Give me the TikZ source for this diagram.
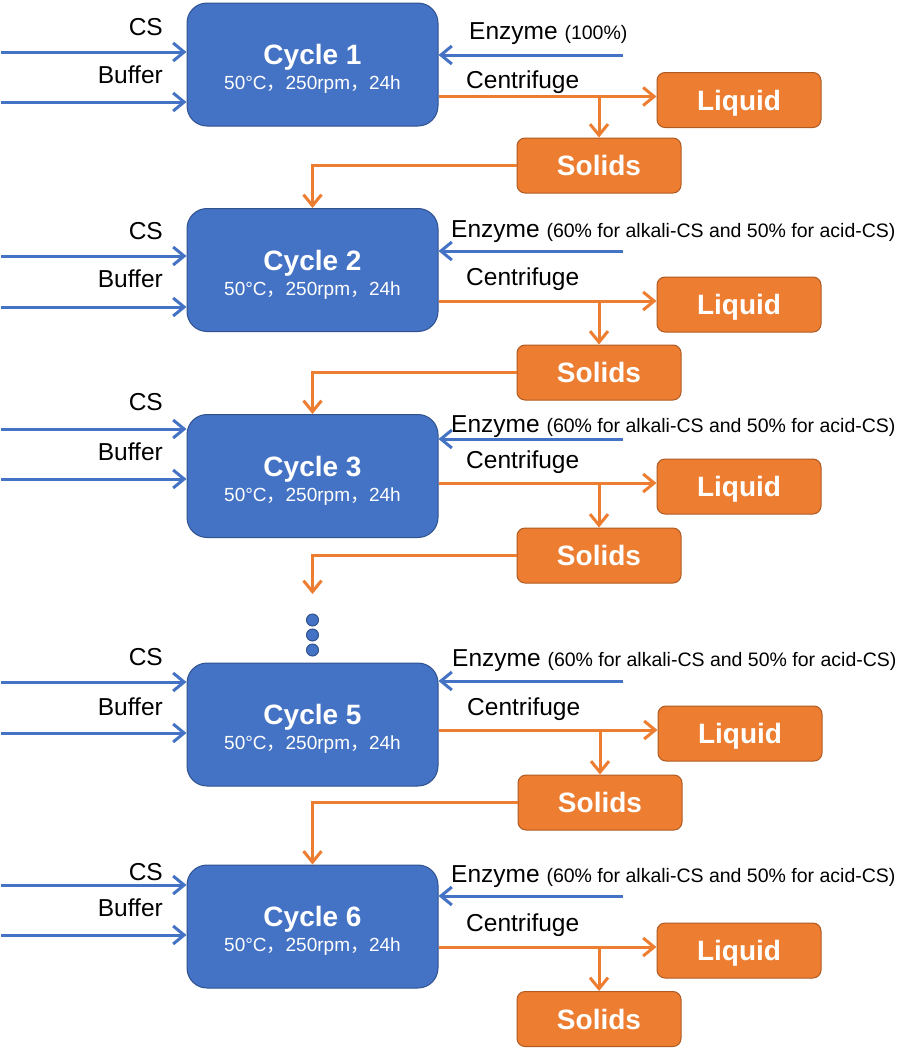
\documentclass[tikz,border=0pt]{standalone}
\usepackage{fontspec}
\setmainfont{Liberation Sans}
\newfontfamily\cjk{Noto Sans CJK SC}
\usetikzlibrary{arrows.meta}
\definecolor{cycblue}{HTML}{4472C4}
\definecolor{cycedge}{HTML}{2F528F}
\definecolor{outorange}{HTML}{ED7D31}
\definecolor{outedge}{HTML}{AE5A21}
\newcommand{\runcond}{50°C{\cjk ，}250rpm{\cjk ，}24h}
\newcommand{\dosenote}[1]{{\fontsize{19.5}{23}\selectfont(#1)}}
\tikzset{
  cyclebox/.style={rectangle,rounded corners=20pt,draw=cycedge,fill=cycblue,line width=1pt,
    minimum width=251pt,minimum height=123pt,inner sep=0pt},
  cycletitle/.style={anchor=base,inner sep=0pt,text=white,font=\fontsize{28}{32}\selectfont\bfseries},
  cyclecond/.style={anchor=base,inner sep=0pt,text=white,font=\fontsize{19}{23}\selectfont},
  outbox/.style={rectangle,rounded corners=8pt,draw=outedge,fill=outorange,line width=1pt,
    minimum width=164pt,minimum height=55pt,inner sep=0pt,text height=20pt,text depth=0pt,
    text=white,font=\fontsize{28}{32}\selectfont\bfseries},
  inlabel/.style={anchor=base east,inner sep=0pt,font=\fontsize{24.5}{29}\selectfont},
  sidelabel/.style={anchor=base west,inner sep=0pt,font=\fontsize{24.5}{29}\selectfont},
  feed/.style={draw=cycblue,line width=3pt,-{Straight Barb[length=11pt,width=18pt]}},
  product/.style={draw=outorange,line width=3pt,-{Straight Barb[length=11pt,width=18pt]}},
  dot/.style={circle,draw=cycedge,fill=cycblue,line width=1pt,minimum size=12pt,inner sep=0pt}
}
\begin{document}
\begin{tikzpicture}[x=1pt,y=-1pt]
  \useasboundingbox (0,0) rectangle (898,1050);

  \path (312.5,64.5) node[cyclebox] (c1) {};
  \path (c1.center) node[cycletitle] (t1) {Cycle 1};
  \path ([yshift=-25pt]c1.center) node[cyclecond] (k1) {\runcond};
  \path (739,100) node[outbox] (l1) {Liquid};
  \path (599,165.5) node[outbox] (s1) {Solids};
  \path (163,35) node[inlabel] (csl1) {CS};
  \path (163,83) node[inlabel] (bfl1) {Buffer};
  \path (469,39) node[sidelabel] (enl1) {Enzyme \dosenote{100\%}};
  \path (466,88) node[sidelabel] (cfl1) {Centrifuge};
  \coordinate (csa1) at (1,52);
  \coordinate (bfa1) at (1,102);
  \coordinate (ena1) at (623,55);
  \coordinate (cfa1) at ([yshift=3.5pt]l1.west);

  \path (312.5,270) node[cyclebox] (c2) {};
  \path (c2.center) node[cycletitle] (t2) {Cycle 2};
  \path ([yshift=-25pt]c2.center) node[cyclecond] (k2) {\runcond};
  \path (739,304.5) node[outbox] (l2) {Liquid};
  \path (599,372.5) node[outbox] (s2) {Solids};
  \path (163,239.5) node[inlabel] (csl2) {CS};
  \path (163,287.5) node[inlabel] (bfl2) {Buffer};
  \path (451,237) node[sidelabel] (enl2) {Enzyme \dosenote{60\% for alkali-CS and 50\% for acid-CS}};
  \path (466,285.5) node[sidelabel] (cfl2) {Centrifuge};
  \coordinate (csa2) at (1,256);
  \coordinate (bfa2) at (1,307);
  \coordinate (ena2) at (623,251);
  \coordinate (cfa2) at ([yshift=3.5pt]l2.west);

  \path (312.5,476) node[cyclebox] (c3) {};
  \path (c3.center) node[cycletitle] (t3) {Cycle 3};
  \path ([yshift=-25pt]c3.center) node[cyclecond] (k3) {\runcond};
  \path (739,486.5) node[outbox] (l3) {Liquid};
  \path (599,555.5) node[outbox] (s3) {Solids};
  \path (163,410.5) node[inlabel] (csl3) {CS};
  \path (163,460.5) node[inlabel] (bfl3) {Buffer};
  \path (451,432) node[sidelabel] (enl3) {Enzyme \dosenote{60\% for alkali-CS and 50\% for acid-CS}};
  \path (466,468.5) node[sidelabel] (cfl3) {Centrifuge};
  \coordinate (csa3) at (1,429);
  \coordinate (bfa3) at (1,479);
  \coordinate (ena3) at (623,439);
  \coordinate (cfa3) at ([yshift=3.5pt]l3.west);

  \path (312.5,620) node[dot] (d1) {};
  \path (312.5,635) node[dot] (d2) {};
  \path (312.5,650) node[dot] (d3) {};

  \path (312.5,724.5) node[cyclebox] (c5) {};
  \path (c5.center) node[cycletitle] (t5) {Cycle 5};
  \path ([yshift=-25pt]c5.center) node[cyclecond] (k5) {\runcond};
  \path (740,733.5) node[outbox] (l5) {Liquid};
  \path (600,802.5) node[outbox] (s5) {Solids};
  \path (163,665.5) node[inlabel] (csl5) {CS};
  \path (163,715.5) node[inlabel] (bfl5) {Buffer};
  \path (452,666) node[sidelabel] (enl5) {Enzyme \dosenote{60\% for alkali-CS and 50\% for acid-CS}};
  \path (467,715.5) node[sidelabel] (cfl5) {Centrifuge};
  \coordinate (csa5) at (1,682);
  \coordinate (bfa5) at (1,733);
  \coordinate (ena5) at (623,681);
  \coordinate (cfa5) at ([yshift=3.5pt]l5.west);

  \path (312.5,926.5) node[cyclebox] (c6) {};
  \path (c6.center) node[cycletitle] (t6) {Cycle 6};
  \path ([yshift=-25pt]c6.center) node[cyclecond] (k6) {\runcond};
  \path (739,950.5) node[outbox] (l6) {Liquid};
  \path (599,1019) node[outbox] (s6) {Solids};
  \path (163,880.5) node[inlabel] (csl6) {CS};
  \path (163,916.5) node[inlabel] (bfl6) {Buffer};
  \path (451,882) node[sidelabel] (enl6) {Enzyme \dosenote{60\% for alkali-CS and 50\% for acid-CS}};
  \path (466,931.5) node[sidelabel] (cfl6) {Centrifuge};
  \coordinate (csa6) at (1,885);
  \coordinate (bfa6) at (1,935);
  \coordinate (ena6) at (623,896);
  \coordinate (cfa6) at ([yshift=3.5pt]l6.west);

  \foreach \n in {1,2,3,5,6} {
    \draw[feed] (csa\n) -- (csa\n -| c\n.west);
    \draw[feed] (bfa\n) -- (bfa\n -| c\n.west);
    \draw[feed] (ena\n) -- (ena\n -| c\n.east);
    \draw[product] (cfa\n -| c\n.east) -- (cfa\n);
    \draw[product] (cfa\n -| s\n) -- (s\n.north);
  }
  \draw[product] (s1.west) -| (c2.north);
  \draw[product] (s2.west) -| (c3.north);
  \draw[product] (s3.west) -| ([yshift=19.5pt]d1.north);
  \draw[product] (s5.west) -| (c6.north);
\end{tikzpicture}
\end{document}
